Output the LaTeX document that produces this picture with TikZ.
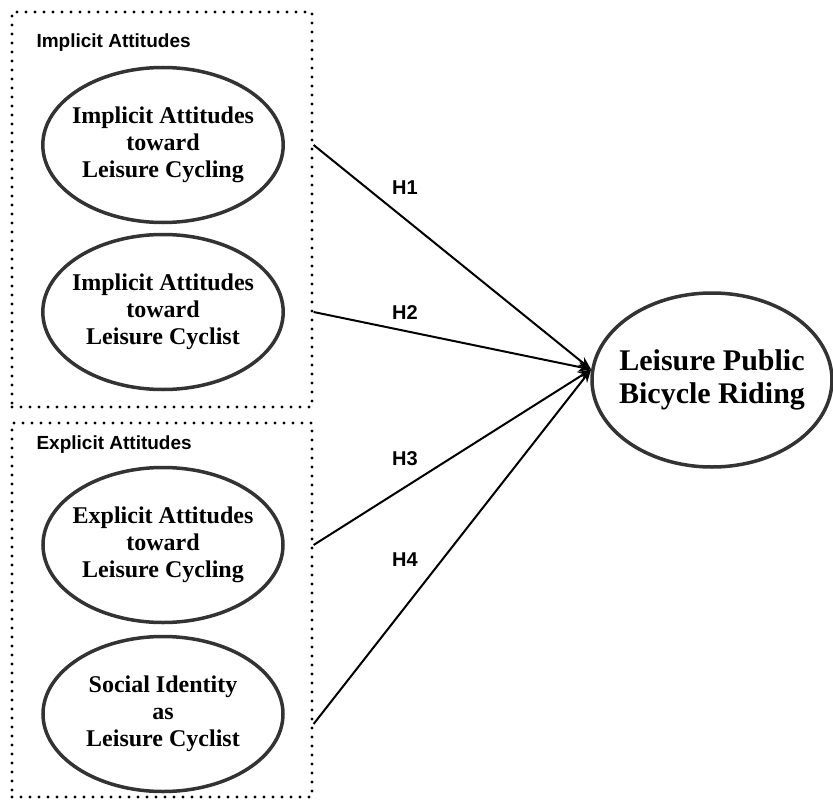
\documentclass[tikz,border=0pt]{standalone}
\usepackage{fontspec}
\setmainfont{Liberation Serif}
\setsansfont{Liberation Sans}
\usepackage{tikz}
\usetikzlibrary{shapes.geometric}
\usetikzlibrary{positioning}
\usetikzlibrary{arrows.meta}
\tikzstyle{groupbox} = [draw=black, line width=3.2pt, dash pattern=on 0pt off 9pt, line cap=round, minimum width=300pt, inner sep=0pt]
\tikzstyle{grouplabel} = [anchor=west, font=\sffamily\bfseries\fontsize{19}{22}\selectfont]
\tikzstyle{construct} = [ellipse, draw=black!80, line width=3.5pt, minimum width=240pt, minimum height=155pt, inner sep=-6pt, align=center, font=\bfseries\fontsize{24}{27}\selectfont]
\tikzstyle{hyp} = [font=\sffamily\bfseries\fontsize{20}{24}\selectfont]
\tikzstyle{arrow} = [line width=2pt, -{Stealth[length=13pt, width=10pt]}]

\begin{document}
\begin{tikzpicture}[x=1pt, y=-1pt]
  \useasboundingbox (0,0) rectangle (833,800);
  % the two groups
  \node[groupbox, minimum height=395pt] (implicit) at (162,209.5) {};
  \node[groupbox, minimum height=374pt] (explicit) at (162,610) {};
  \node[grouplabel] (implicitlbl) at (33,43) {Implicit Attitudes};
  \node[grouplabel] (explicitlbl) at (33,445) {Explicit Attitudes};
  % constructs
  \node[construct] (impcycling) at (163,145) {Implicit Attitudes\\toward\\Leisure Cycling};
  \node[construct] (impcyclist) at (163,312) {Implicit Attitudes\\toward\\Leisure Cyclist};
  \node[construct] (expcycling) at (163,545) {Explicit Attitudes\\toward\\Leisure Cycling};
  \node[construct] (identity) at (163,714) {Social Identity\\as\\Leisure Cyclist};
  \node[construct, minimum height=174pt, inner sep=-9pt, font=\bfseries\fontsize{30}{33}\selectfont] (riding) at (712,380) {Leisure Public\\Bicycle Riding};
  % hypotheses
  \draw[arrow] (implicit.east |- impcycling) -- (riding.175);
  \draw[arrow] (implicit.east |- impcyclist) -- (riding.175);
  \draw[arrow] (explicit.east |- expcycling) -- (riding.175);
  \draw[arrow] ([yshift=-10pt]explicit.east |- identity) -- (riding.175);
  \node[hyp] (h1) at (405,188) {H1};
  \node[hyp] (h2) at (405,313) {H2};
  \node[hyp] (h3) at (405,459) {H3};
  \node[hyp] (h4) at (405,560) {H4};
\end{tikzpicture}
\end{document}
